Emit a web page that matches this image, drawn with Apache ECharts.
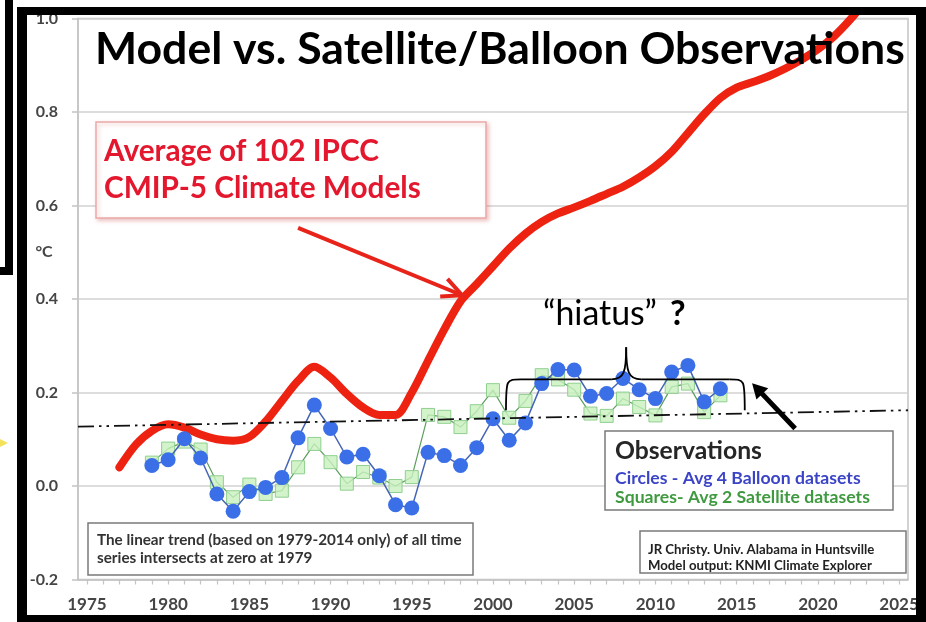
<!DOCTYPE html>
<html><head><meta charset="utf-8">
<script src="https://cdn.jsdelivr.net/npm/echarts@6/dist/echarts.min.js"></script>
<style>html,body{margin:0;padding:0;background:#fff}#c{width:926px;height:622px}</style>
</head><body><div id="c"></div>
<script>
// ---- data ----
const obsYears = [1979,1980,1981,1982,1983,1984,1985,1986,1987,1988,1989,1990,1991,1992,1993,1994,1995,1996,1997,1998,1999,2000,2001,2002,2003,2004,2005,2006,2007,2008,2009,2010,2011,2012,2013,2014];
const balloon = [0.044,0.056,0.101,0.060,-0.017,-0.054,-0.012,-0.003,0.018,0.103,0.173,0.123,0.062,0.068,0.022,-0.040,-0.047,0.072,0.065,0.044,0.082,0.144,0.098,0.135,0.219,0.249,0.248,0.192,0.198,0.230,0.206,0.187,0.244,0.258,0.180,0.208];
const satellite = [0.050,0.080,0.095,0.078,0.008,-0.024,0.003,-0.017,-0.010,0.040,0.090,0.051,0.005,0.030,0.018,0.000,0.019,0.152,0.148,0.126,0.160,0.205,0.146,0.182,0.237,0.228,0.206,0.155,0.150,0.187,0.169,0.151,0.212,0.219,0.158,0.194];
const modelYears = [1977,1978,1979,1980,1981,1982,1983,1984,1985,1986,1987,1988,1989,1990,1991,1992,1993,1994,1995,1996,1997,1998,1999,2000,2001,2002,2003,2004,2005,2006,2007,2008,2009,2010,2011,2012,2013,2014,2015,2016,2017,2018,2019,2020,2021,2022,2023];
const modelValues = [0.040,0.088,0.118,0.132,0.125,0.110,0.100,0.097,0.105,0.138,0.182,0.225,0.255,0.232,0.197,0.168,0.152,0.152,0.200,0.268,0.335,0.395,0.432,0.470,0.508,0.540,0.565,0.583,0.596,0.610,0.625,0.640,0.660,0.684,0.715,0.755,0.795,0.830,0.852,0.864,0.877,0.893,0.912,0.934,0.962,0.998,1.040];
const trendYears = [1974.45, 2025.55];
const trendValues = [0.127, 0.162];
const xLabelYears = [1975,1980,1985,1990,1995,2000,2005,2010,2015,2020,2025];
const xTickYears = [1975,1976,1977,1978,1979,1980,1981,1982,1983,1984,1985,1986,1987,1988,1989,1990,1991,1992,1993,1994,1995,1996,1997,1998,1999,2000,2001,2002,2003,2004,2005,2006,2007,2008,2009,2010,2011,2012,2013,2014,2015,2016,2017,2018,2019,2020,2021,2022,2023,2024,2025];
// annotation anchors in data coordinates [year, value]
const braceLeft = [2000.8, 0.162], braceTopV = 0.228, bracePeak = [2008.2, 0.297], braceRight = [2015.5, 0.162];
const redArrowFrom = [1988.0, 0.552], redArrowTo = [1998.1, 0.408];
const blackArrowFrom = [2018.6, 0.123], blackArrowTo = [2015.95, 0.220];

const FF = 'Lato, "Open Sans", sans-serif';
const chart = echarts.init(document.getElementById('c'), null, {renderer:'canvas'});
const mctx = document.createElement('canvas').getContext('2d');
function fit(text, weight, target){ mctx.font = weight + ' 100px Lato'; return 100 * target / mctx.measureText(text).width; }
const zip = (a,b)=>a.map((v,i)=>[v,b[i]]);

chart.setOption({
  backgroundColor:'#fff',
  animation:false,
  grid:{left:78, right:18, top:18.5, bottom:42.5, show:true, borderColor:'#c4c4c4', borderWidth:1.5},
  xAxis:{type:'value', min:1974.45, max:2025.55, splitLine:{show:false},
    axisLine:{show:true, onZero:false, lineStyle:{color:'#c4c4c4', width:1.5}},
    axisTick:{show:true, customValues:xTickYears, length:5, lineStyle:{color:'#c4c4c4', width:1.2}},
    axisLabel:{customValues:xLabelYears, formatter:v=>String(Math.round(v)), margin:17, fontFamily:FF, fontWeight:'bold', fontSize:17, color:'#454545'}},
  yAxis:{type:'value', min:-0.2, max:1.0, interval:0.2,
    axisLine:{show:true, lineStyle:{color:'#c4c4c4', width:1.5}},
    axisTick:{show:true, length:6, lineStyle:{color:'#c4c4c4', width:1.5}},
    splitLine:{show:true, lineStyle:{color:'#d2d2d2', width:1.5}},
    axisLabel:{formatter:v=>v.toFixed(1), margin:20, padding:[5,0,0,0], fontFamily:FF, fontWeight:'bold', fontSize:16, color:'#454545'}},
  series:[
    {type:'line', name:'Model', data:zip(modelYears, modelValues), smooth:0.3, symbol:'none', z:2,
      lineStyle:{color:'#ee2211', width:8, cap:'round', join:'round'}},
    {type:'line', name:'Satellite', data:zip(obsYears, satellite), symbol:'rect', symbolSize:13, z:3,
      itemStyle:{color:'rgba(200,240,190,0.8)', borderColor:'#8fcf8f', borderWidth:1},
      lineStyle:{color:'#5c9e5c', width:1.2}},
    {type:'line', name:'Balloon', data:zip(obsYears, balloon), symbol:'circle', symbolSize:15, z:4,
      itemStyle:{color:'#3a6fe8'}, lineStyle:{color:'#4665b5', width:1.5}},
    {type:'line', name:'Trend', data:zip(trendYears, trendValues), symbol:'none', z:5,
      lineStyle:{color:'#111', width:1.8, type:[16,5,2.5,5,2.5,5]}}
  ]
});

const P = p => chart.convertToPixel({gridIndex:0}, p);
function txt(x, y, text, size, weight, color, align){
  align = align || 'left';
  return {type:'text', x:x, y:y, z:100, style:{text:text, fontFamily:FF, fontSize:size, fontWeight:weight, fill:color,
    align:align, textAlign:align, verticalAlign:'middle', textVerticalAlign:'middle'}};
}
function rect(x,y,w,h,fill,stroke,lw,z,extra){
  return {type:'rect', z:z||50, shape:{x:x,y:y,width:w,height:h}, style:Object.assign({fill:fill, stroke:stroke||null, lineWidth:lw||0}, extra||{})};
}

const els = [];
// title
const tSize = fit('Model vs. Satellite/Balloon Observations','bold',810);
els.push(txt(95, 50, 'Model vs. Satellite/Balloon Observations', tSize, 'bold', '#000'));
// red model box
els.push(rect(96,122,390,96,'#fff','#eaa9a9',1.5,60,{shadowBlur:4, shadowColor:'rgba(210,90,90,0.35)', shadowOffsetX:2, shadowOffsetY:2}));
const rs = (fit('Average of 102 IPCC','bold',274) + fit('CMIP-5 Climate Models','bold',318))/2;
els.push(txt(104, 151, 'Average of 102 IPCC', rs, 'bold', '#e3172d'));
els.push(txt(104, 188, 'CMIP-5 Climate Models', rs, 'bold', '#e3172d'));
// red arrow
const ra0 = P(redArrowFrom), ra1 = P(redArrowTo);
const ang = Math.atan2(ra1[1]-ra0[1], ra1[0]-ra0[0]);
function headPts(tip, a, len, spread){
  return [[tip[0]-len*Math.cos(a-spread), tip[1]-len*Math.sin(a-spread)], tip, [tip[0]-len*Math.cos(a+spread), tip[1]-len*Math.sin(a+spread)]];
}
els.push({type:'line', z:70, shape:{x1:ra0[0],y1:ra0[1],x2:ra1[0]-2*Math.cos(ang),y2:ra1[1]-2*Math.sin(ang)}, style:{stroke:'#e8241a', lineWidth:4}});
els.push({type:'polyline', z:70, shape:{points:headPts(ra1, ang, 22, 0.45)}, style:{stroke:'#e8241a', lineWidth:4, fill:null, lineJoin:'miter'}});
// black arrow
const ba0 = P(blackArrowFrom), ba1 = P(blackArrowTo);
const bang = Math.atan2(ba1[1]-ba0[1], ba1[0]-ba0[0]);
const bh = headPts(ba1, bang, 17, 0.5);
els.push({type:'line', z:70, shape:{x1:ba0[0],y1:ba0[1],x2:ba1[0]-12*Math.cos(bang),y2:ba1[1]-12*Math.sin(bang)}, style:{stroke:'#000', lineWidth:5}});
els.push({type:'polygon', z:70, shape:{points:bh}, style:{fill:'#000'}});
// brace
const bl = P(braceLeft), br = P(braceRight), bp = P(bracePeak), bt = P([braceLeft[0], braceTopV])[1];
const r = 15;
const braceStyle = {stroke:'#000', lineWidth:1.8, fill:null};
els.push({type:'bezierCurve', z:70, shape:{x1:bl[0],y1:bl[1],cpx1:bl[0],cpy1:bt,cpx2:bl[0],cpy2:bt,x2:bl[0]+r,y2:bt}, style:braceStyle});
els.push({type:'line', z:70, shape:{x1:bl[0]+r,y1:bt,x2:bp[0]-r,y2:bt}, style:braceStyle});
els.push({type:'bezierCurve', z:70, shape:{x1:bp[0]-r,y1:bt,cpx1:bp[0]-2,cpy1:bt,cpx2:bp[0],cpy2:bt-8,x2:bp[0],y2:bp[1]}, style:braceStyle});
els.push({type:'bezierCurve', z:70, shape:{x1:bp[0],y1:bp[1],cpx1:bp[0],cpy1:bt-8,cpx2:bp[0]+2,cpy2:bt,x2:bp[0]+r,y2:bt}, style:braceStyle});
els.push({type:'line', z:70, shape:{x1:bp[0]+r,y1:bt,x2:br[0]-r,y2:bt}, style:braceStyle});
els.push({type:'bezierCurve', z:70, shape:{x1:br[0]-r,y1:bt,cpx1:br[0],cpy1:bt,cpx2:br[0],cpy2:bt,x2:br[0],y2:br[1]}, style:braceStyle});
// hiatus text
const hs = fit('\u201Chiatus\u201D','normal',114);
els.push(txt(543, 314, '\u201Chiatus\u201D', hs, 'normal', '#000'));
els.push(txt(670, 314, '?', hs, 'bold', '#000'));
// observations box
els.push(rect(605,431,288,79,'#fff','#7a7a7a',1.5,60));
els.push(txt(615, 451, 'Observations', fit('Observations','bold',147), 'bold', '#262626'));
const os = (fit('Circles - Avg 4 Balloon datasets','bold',246)+fit('Squares- Avg 2 Satellite datasets','bold',255))/2;
els.push(txt(615, 478, 'Circles - Avg 4 Balloon datasets', os, 'bold', '#3b44c6'));
els.push(txt(615, 497, 'Squares- Avg 2 Satellite datasets', os, 'bold', '#3f9a3f'));
// linear trend note
els.push(rect(88,523,385,52,'#fff','#7a7a7a',1.5,60));
const ls = fit('The linear trend (based on 1979-2014 only) of all time','bold',365);
els.push(txt(97, 540, 'The linear trend (based on 1979-2014 only) of all time', ls, 'bold', '#333'));
els.push(txt(97, 558, 'series intersects at zero at 1979', ls, 'bold', '#333'));
// credits
els.push(rect(640,531,266,42,'#fff','#7a7a7a',1.5,60));
const cs = fit('Model output: KNMI Climate Explorer','bold',224);
els.push(txt(648, 550, 'JR Christy. Univ. Alabama in Huntsville', cs, 'bold', '#222'));
els.push(txt(648, 566, 'Model output: KNMI Climate Explorer', cs, 'bold', '#222'));
// degree label
els.push(txt(44, 252, '\u00B0C', 16, 'bold', '#454545', 'center'));
// frames
els.push(rect(17,7,909,8,'#000',null,0,200));
els.push(rect(17,7,10,615,'#000',null,0,200));
els.push(rect(916,7,10,615,'#000',null,0,200));
els.push(rect(17,615,909,7,'#000',null,0,200));
els.push(rect(5,0,8,275,'#000',null,0,200));
els.push(rect(0,267,13,8,'#000',null,0,200));
els.push({type:'polygon', z:200, shape:{points:[[0,439],[8,443],[0,447]]}, style:{fill:'#f3e25a'}});

chart.setOption({graphic:{elements:els}});
</script></body></html>
